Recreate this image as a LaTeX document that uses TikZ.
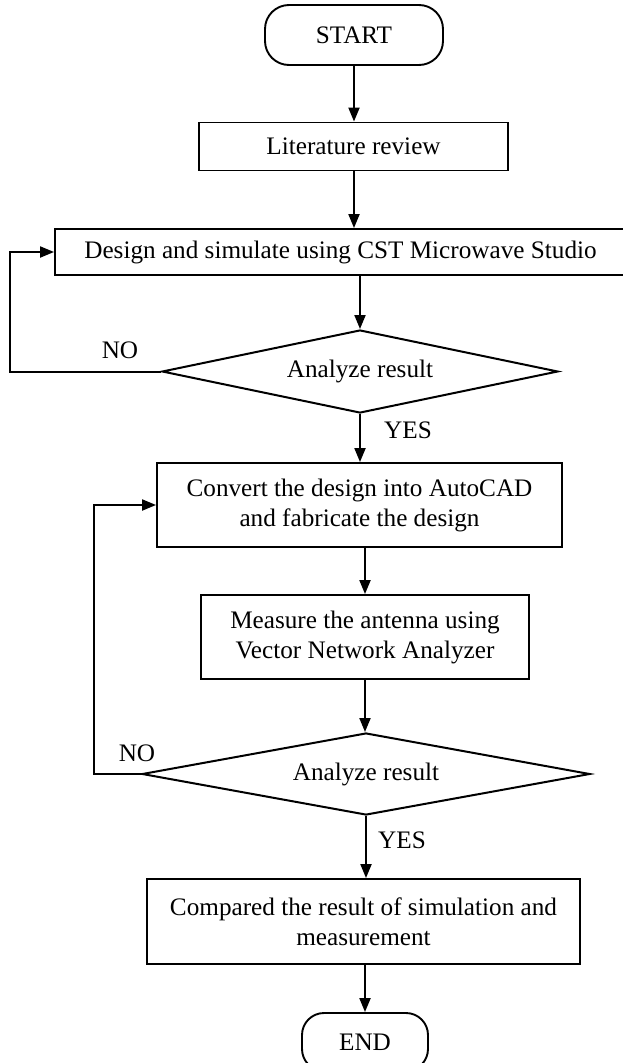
\documentclass[tikz,border=0pt]{standalone}
\usepackage{fontspec}
\setmainfont{Liberation Serif}
\usetikzlibrary{arrows.meta,shapes.geometric}
\begin{document}
\begin{tikzpicture}[x=1pt,y=-1pt,
  every node/.style={font=\fontsize{25.2}{30}\selectfont},
  proc/.style={draw, line width=1.9pt, rectangle, inner sep=0pt, align=center},
  term/.style={draw, line width=1.9pt, rectangle, rounded corners=24pt, inner sep=0pt},
  decide/.style={draw, line width=2pt, diamond, aspect=4.7, inner sep=0pt},
  arr/.style={line width=2pt, -{Triangle[length=14pt,width=11pt]}},
  lbl/.style={inner sep=0pt}]
\useasboundingbox (0,0) rectangle (623,1063);

% terminals, process boxes and decisions
\node[term, minimum width=178pt, minimum height=60pt] (start) at (354,35) {START};
\node[proc, minimum width=309pt, minimum height=48pt] (lit) at (353.5,146.5) {Literature review};
\node[proc, minimum width=571pt, minimum height=46pt] (design) at (340.5,252) {Design and simulate using CST Microwave Studio};
\node[decide, minimum width=396pt, minimum height=83pt] (dia1) at (360,371.5) {Analyze result};
\node[proc, minimum width=405pt, minimum height=84pt] (convert) at (359.5,505) {Convert the design into AutoCAD\\and fabricate the design};
\node[proc, minimum width=328pt, minimum height=84pt] (measure) at (365,637) {Measure the antenna using\\Vector Network Analyzer};
\node[decide, minimum width=448pt, minimum height=82pt] (dia2) at (366,774) {Analyze result};
\node[proc, minimum width=433pt, minimum height=85pt] (compare) at (363.5,921.5) {Compared the result of simulation and\\measurement};
\node[term, rounded corners=22pt, minimum width=126pt, minimum height=58pt] (end) at (365,1042) {END};

% branch labels
\node[lbl] (no1) at (120,350) {NO};
\node[lbl] (yes1) at (408,430) {YES};
\node[lbl] (no2) at (137,753) {NO};
\node[lbl] (yes2) at (402,840) {YES};

% corners of the two feedback loops
\coordinate (fb1) at (10,371.5);
\coordinate (fb2) at (94,774);

% main flow
\draw[arr] (start.south) -- (lit.north -| start.south);
\draw[arr] (lit.south -| start.south) -- (design.north -| start.south);
\draw[arr] (design.south -| dia1.north) -- (dia1.north);
\draw[arr] (dia1.south) -- (convert.north -| dia1.south);
\draw[arr] (convert.south -| measure.north) -- (measure.north);
\draw[arr] (measure.south) -- (dia2.north -| measure.south);
\draw[arr] (dia2.south) -- (compare.north -| dia2.south);
\draw[arr] (compare.south -| end.north) -- (end.north);

% feedback loops
\draw[arr] (dia1.west) -- (fb1) |- (design.west);
\draw[arr] (dia2.west) -- (fb2) |- (convert.west);
\end{tikzpicture}
\end{document}
